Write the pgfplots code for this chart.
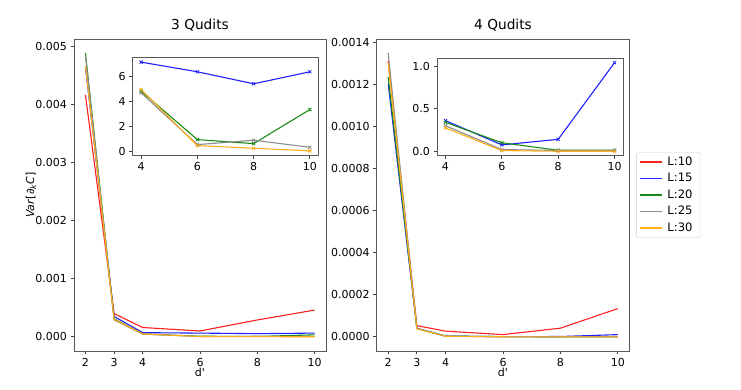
\documentclass[border=0pt]{standalone}
\usepackage{fontspec}
\setmainfont{DejaVu Sans}
\usepackage{pgfplots}
\pgfplotsset{compat=1.18}
\usepackage{pgfplotstable}
\definecolor{cred}{HTML}{FF2020}
\definecolor{cblue}{HTML}{2020FF}
\definecolor{cgreen}{HTML}{1A8C1A}
\definecolor{cgray}{HTML}{8C8C8C}
\definecolor{corange}{HTML}{FFAE1A}

\pgfplotstableread{
d red blue green gray orange
2 4.17e-3 4.65e-3 4.89e-3 4.85e-3 4.67e-3
3 4.0e-4 3.5e-4 3.1e-4 2.9e-4 3.0e-4
4 1.6e-4 7.12e-5 4.8e-5 4.67e-5 4.93e-5
6 1.0e-4 6.35e-5 0.93e-5 0.53e-5 0.45e-5
8 2.9e-4 5.39e-5 0.61e-5 0.88e-5 0.24e-5
10 4.6e-4 6.35e-5 3.33e-5 0.32e-5 0.03e-5
}\threeq

\pgfplotstableread{
d red blue green gray orange
2 1.31e-3 1.203e-3 1.234e-3 1.347e-3 1.30e-3
3 5.3e-5 4.0e-5 4.0e-5 4.0e-5 3.8e-5
4 2.7e-5 0.36e-5 0.34e-5 0.30e-5 0.275e-5
6 1.05e-5 0.075e-5 0.10e-5 0.02e-5 0.008e-5
8 4.1e-5 0.14e-5 0.012e-5 0.01e-5 0.0
10 1.34e-4 1.04e-5 0.012e-5 0.01e-5 0.0
}\fourq

\pgfplotsset{
  base/.style={
    scale only axis, anchor=south west,
    axis line style={black!65, line width=0.8pt},
    tick style={black!75, line width=0.8pt},
    tick align=outside, xtick pos=bottom, ytick pos=left,
    major tick length=3.5pt,
    scaled ticks=false,
    tick label style={font=\fontsize{11}{13}\selectfont},
    /pgf/number format/assume math mode=true,
    every axis plot/.append style={line width=1.1pt},
  },
  mainax/.style={base,
    xmin=1.6, xmax=10.4, xtick={2,3,4,6,8,10},
    xlabel={d\textquotesingle},
    xlabel style={at={(axis description cs:0.5,-0.0817)}, anchor=base, font=\fontsize{11}{13}\selectfont},
    title style={at={(axis description cs:0.5,1)}, anchor=base, yshift=3.5pt, inner sep=0pt, font=\fontsize{13.7}{16}\selectfont},
  },
  insetax/.style={base,
    xmin=3.7, xmax=10.3, xtick={4,6,8,10},
    axis background/.style={fill=white},
    every axis plot/.append style={mark=x, mark size=2.2pt, mark options={line width=0.8pt}},
  },
}

\begin{document}
\begin{tikzpicture}
\useasboundingbox (0,0) rectangle (741pt,390pt);

% ---------- 3 Qudits ----------
\begin{axis}[mainax, at={(74pt,39pt)}, width=252pt, height=312pt,
  ymin=-0.000245, ymax=0.005135,
  ytick={0,0.001,0.002,0.003,0.004,0.005},
  yticklabel style={/pgf/number format/.cd, fixed, fixed zerofill, precision=3},
  title={3 Qudits},
  ylabel={\textit{Var}[\textit{∂}\textsubscript{\textit{k}}\textit{C}]},
  ylabel style={at={(axis description cs:-0.1706,0.5)}, anchor=center, font=\fontsize{11}{13}\selectfont},
]
\addplot[cred] table[x=d, y=red] {\threeq};
\addplot[cblue] table[x=d, y=blue] {\threeq};
\addplot[cgreen] table[x=d, y=green] {\threeq};
\addplot[cgray] table[x=d, y=gray] {\threeq};
\addplot[corange] table[x=d, y=orange] {\threeq};
\end{axis}

\begin{axis}[insetax, at={(132.7pt,234.3pt)}, width=185.6pt, height=98pt,
  ymin=-0.3545, ymax=7.4745, ytick={0,2,4,6},
]
\addplot[cblue] table[x=d, y expr=\thisrow{blue}*100000, skip coords between index={0}{2}] {\threeq};
\addplot[cgreen] table[x=d, y expr=\thisrow{green}*100000, skip coords between index={0}{2}] {\threeq};
\addplot[cgray] table[x=d, y expr=\thisrow{gray}*100000, skip coords between index={0}{2}] {\threeq};
\addplot[corange] table[x=d, y expr=\thisrow{orange}*100000, skip coords between index={0}{2}] {\threeq};
\node[anchor=south west, inner sep=0pt, font=\fontsize{11}{13}\selectfont] at (axis description cs:0,1.025) {1e−5};
\end{axis}

% ---------- 4 Qudits ----------
\begin{axis}[mainax, at={(376.7pt,39pt)}, width=252.6pt, height=312pt,
  ymin=-0.00006735, ymax=0.00141435,
  ytick={0,0.0002,0.0004,0.0006,0.0008,0.001,0.0012,0.0014},
  yticklabel style={/pgf/number format/.cd, fixed, fixed zerofill, precision=4},
  title={4 Qudits},
  legend style={at={(axis description cs:1.027,0.5)}, anchor=west,
    draw=black!20, rounded corners=2pt, font=\fontsize{11.6}{13}\selectfont,
    row sep=2.4pt, inner xsep=3pt, inner ysep=2.5pt,
    nodes={inner xsep=4.5pt}},
  legend cell align=left,
  legend image code/.code={\draw[#1, line width=1.6pt] (0pt,0pt) -- (22pt,0pt);},
]
\addplot[cred] table[x=d, y=red] {\fourq};
\addplot[cblue] table[x=d, y=blue] {\fourq};
\addplot[cgreen] table[x=d, y=green] {\fourq};
\addplot[cgray] table[x=d, y=gray] {\fourq};
\addplot[corange] table[x=d, y=orange] {\fourq};
\legend{L:10, L:15, L:20, L:25, L:30}
\end{axis}

\begin{axis}[insetax, at={(437pt,234.3pt)}, width=186pt, height=97.4pt,
  ymin=-0.052, ymax=1.092, ytick={0,0.5,1},
  yticklabel style={/pgf/number format/.cd, fixed, fixed zerofill, precision=1},
]
\addplot[cblue] table[x=d, y expr=\thisrow{blue}*100000, skip coords between index={0}{2}] {\fourq};
\addplot[cgreen] table[x=d, y expr=\thisrow{green}*100000, skip coords between index={0}{2}] {\fourq};
\addplot[cgray] table[x=d, y expr=\thisrow{gray}*100000, skip coords between index={0}{2}] {\fourq};
\addplot[corange] table[x=d, y expr=\thisrow{orange}*100000, skip coords between index={0}{2}] {\fourq};
\node[anchor=south west, inner sep=0pt, font=\fontsize{11}{13}\selectfont] at (axis description cs:0,1.025) {1e−5};
\end{axis}
\end{tikzpicture}
\end{document}
